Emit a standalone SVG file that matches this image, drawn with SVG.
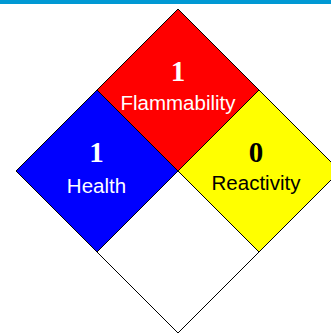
<svg xmlns="http://www.w3.org/2000/svg" width="331" height="333" viewBox="0 0 331 333">
<style>
.q{stroke:#000;stroke-width:1}
.n{font-family:"Liberation Serif",serif;font-weight:bold;font-size:29px;text-anchor:middle}
.l{font-family:"Liberation Sans",Arial,sans-serif;font-size:20.5px;text-anchor:middle}
</style>
<rect x="0" y="0" width="331" height="4" fill="#0099d4"/>
<g id="flammability">
<polygon class="q" fill="#ff0000" points="178,9 259,90 178,171 97,90"/>
<text class="n" x="178" y="81" fill="#fff">1</text>
<text class="l" x="178" y="110" fill="#fff">Flammability</text>
</g>
<g id="health">
<polygon class="q" fill="#0000ff" points="97,90 178,171 97,252 16,171"/>
<text class="n" x="96.5" y="162" fill="#fff">1</text>
<text class="l" x="96.5" y="193" fill="#fff">Health</text>
</g>
<g id="reactivity">
<polygon class="q" fill="#ffff00" points="259,90 340,171 259,252 178,171"/>
<text class="n" x="256" y="162" fill="#000">0</text>
<text class="l" x="256" y="190" fill="#000">Reactivity</text>
</g>
<g id="special">
<polygon class="q" fill="#fff" points="178,171 259,252 178,333 97,252"/>
</g>
<g id="connectors"/>
</svg>
